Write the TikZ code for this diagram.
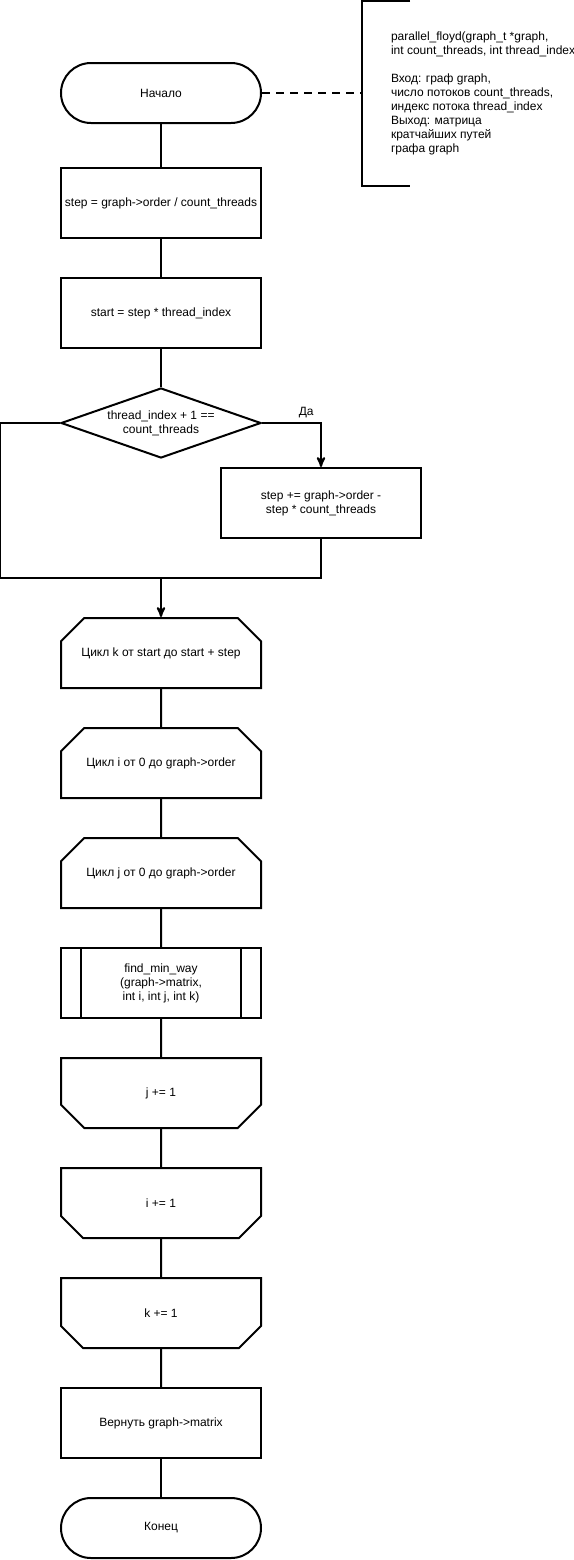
\documentclass[tikz,border=0pt]{standalone}
\usepackage{fontspec}
\setmainfont{Liberation Sans}
\usetikzlibrary{arrows}
\usetikzlibrary{shapes.geometric,shapes.misc}

\begin{document}
\begin{tikzpicture}[x=0.75pt,y=-0.75pt,>=stealth',line width=1.5pt,
      every node/.style={font=\fontsize{9}{10.5}\selectfont},
      base node/.style={draw,minimum width=150pt,minimum height=52.5pt,inner sep=2pt,align=center},
      term node/.style={base node,rounded corners=22.5pt,minimum height=45pt},
      proc node/.style={base node},
      cond node/.style={base node,diamond,aspect=2.86,inner sep=0pt},
      loop start/.style={base node,chamfered rectangle,chamfered rectangle corners={north west,north east},
        chamfered rectangle xsep=15pt,chamfered rectangle ysep=11.25pt},
      loop end/.style={base node,chamfered rectangle,chamfered rectangle corners={south west,south east},
        chamfered rectangle xsep=15pt,chamfered rectangle ysep=11.25pt},
      sub node/.style={base node,path picture={
        \draw ([xshift=15pt]path picture bounding box.north west) -- ([xshift=15pt]path picture bounding box.south west)
              ([xshift=-15pt]path picture bounding box.north east) -- ([xshift=-15pt]path picture bounding box.south east);}},
      note node/.style={anchor=west,align=left,inner xsep=21pt,minimum height=137.25pt}]
    \useasboundingbox (0,0) rectangle (574,1560);
    \node[term node] (start) at (161,93) {Начало};
    \node[note node] (note) at (362,93) {parallel\_floyd(graph\_t *graph,\\int count\_threads, int thread\_index\\[10.5pt]
      Вход: граф graph,\\число потоков count\_threads,\\индекс потока thread\_index\\Выход: матрица\\кратчайших путей\\графа graph};
    \node[proc node] (step) at (161,203) {step = graph->order / count\_threads};
    \node[proc node] (begin) at (161,313) {start = step * thread\_index};
    \node[cond node] (cond) at (161,423) {thread\_index + 1 ==\\count\_threads};
    \node[proc node] (fix) at (321,503) {step += graph->order -\\step * count\_threads};
    \coordinate (merge) at (161,578);
    \node[loop start] (loopk) at (161,653) {Цикл k от start до start + step};
    \node[loop start] (loopi) at (161,763) {Цикл i от 0 до graph->order};
    \node[loop start] (loopj) at (161,873) {Цикл j от 0 до graph->order};
    \node[sub node] (minway) at (161,983) {find\_min\_way\\(graph->matrix,\\int i, int j, int k)};
    \node[loop end] (endj) at (161,1093) {j += 1};
    \node[loop end] (endi) at (161,1203) {i += 1};
    \node[loop end] (endk) at (161,1313) {k += 1};
    \node[proc node] (ret) at (161,1423) {Вернуть graph->matrix};
    \node[term node] (stop) at (161,1528) {Конец};
    % comment bracket
    \draw ([xshift=36pt]note.north west) -- (note.north west) -- (note.south west) -- ([xshift=36pt]note.south west);
    \draw[dash pattern=on 6pt off 4.5pt] (start.east) -- (note.west);
    % main flow
    \path (start) edge (step)
          (step) edge (begin)
          (begin) edge (cond);
    \draw[->] (cond.east) -| node[above,pos=0.375] {Да} (fix.north);
    \draw (cond.west) -- ++(-60,0) |- (merge);
    \draw (fix.south) |- (merge);
    \draw[->] (merge) -- (loopk.north);
    \path (loopk) edge (loopi)
          (loopi) edge (loopj)
          (loopj) edge (minway)
          (minway) edge (endj)
          (endj) edge (endi)
          (endi) edge (endk)
          (endk) edge (ret)
          (ret) edge (stop);
  \end{tikzpicture}
\end{document}
